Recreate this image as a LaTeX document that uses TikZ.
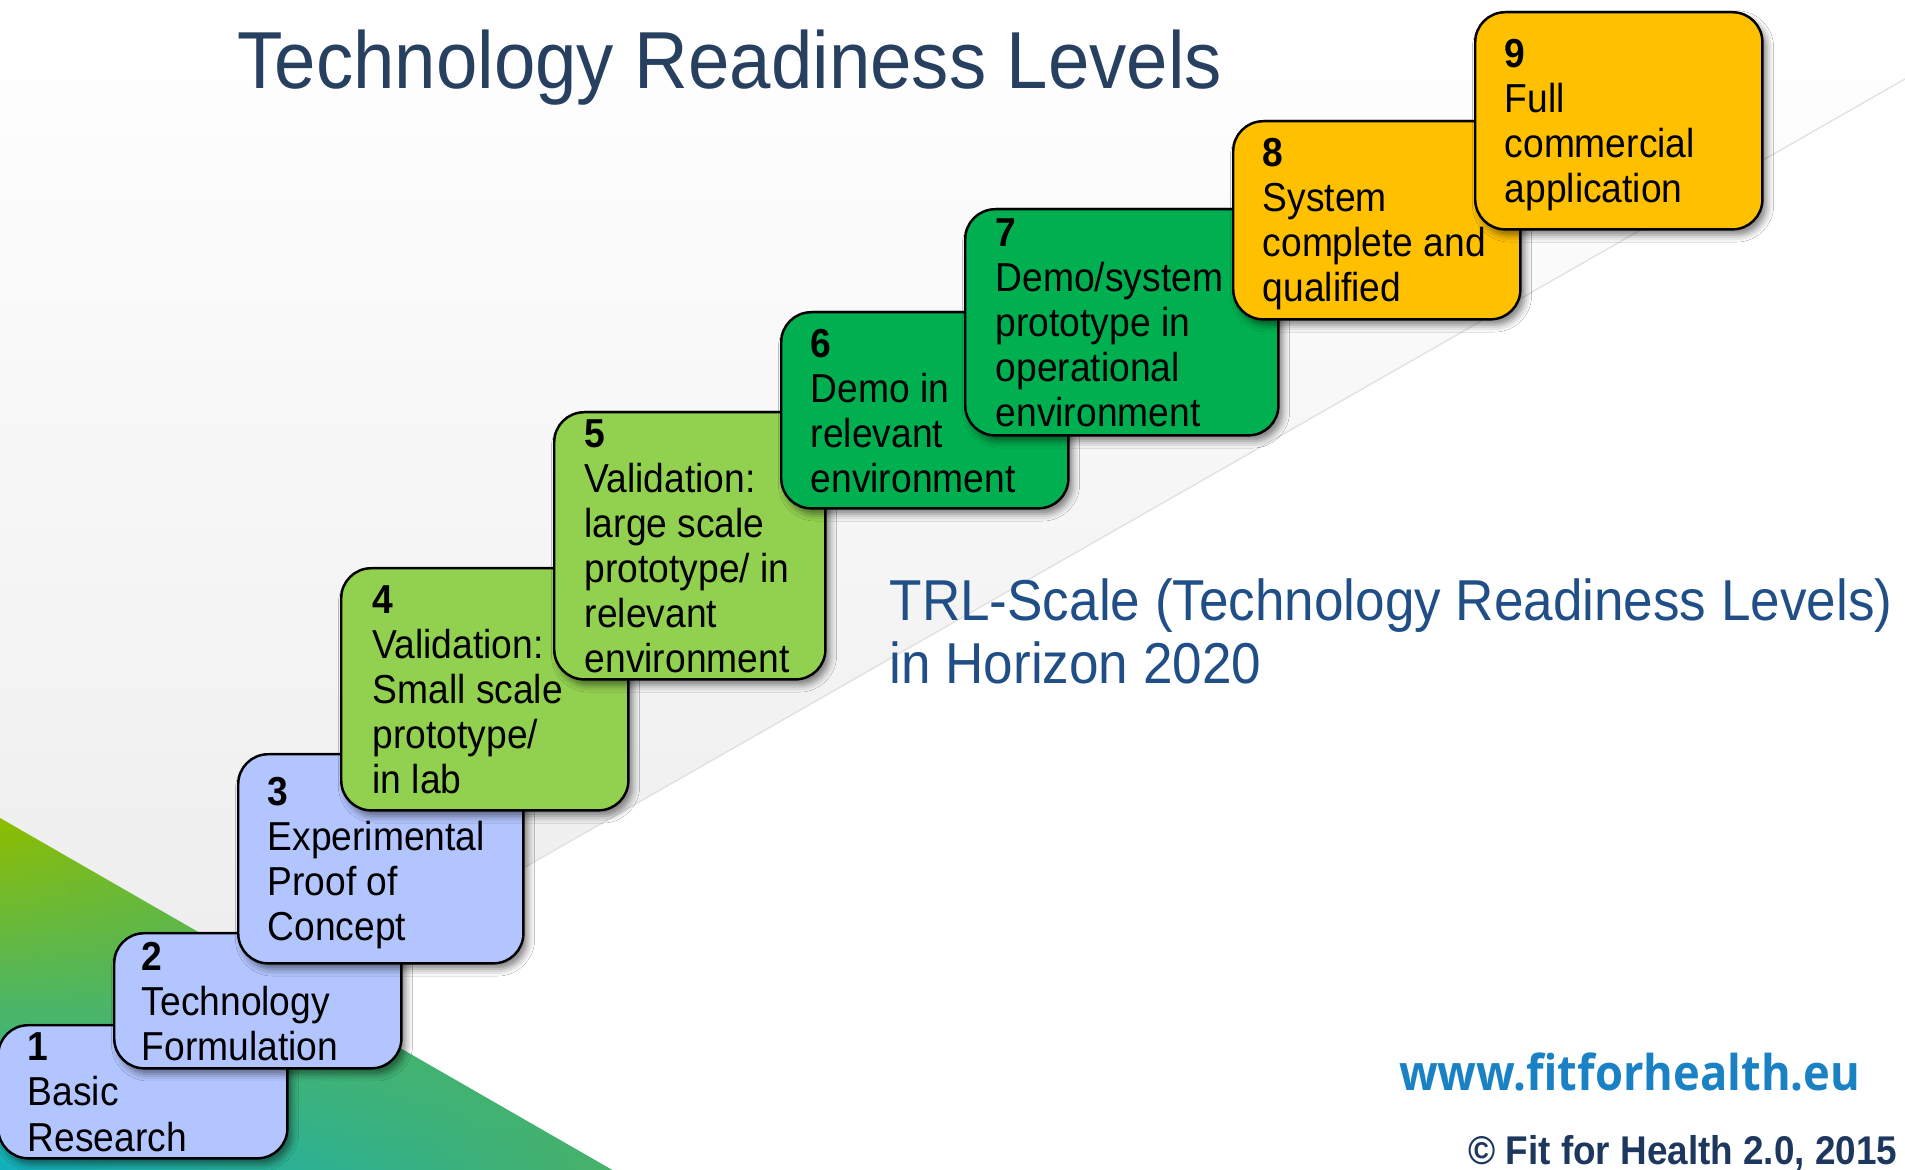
\documentclass[tikz,border=0pt]{standalone}
\usepackage{fontspec}
\setmainfont{Liberation Sans}[FakeStretch=0.92]
\newfontfamily\webfont{Open Sans}[FakeStretch=0.92]
\usetikzlibrary{shadows.blur,fadings}

\definecolor{trlblue}{RGB}{179,197,255}
\definecolor{trllime}{RGB}{146,208,80}
\definecolor{trlgreen}{RGB}{0,176,80}
\definecolor{trlgold}{RGB}{255,192,0}
\definecolor{titleblue}{RGB}{39,64,96}
\definecolor{scaleblue}{RGB}{32,78,135}
\definecolor{webblue}{RGB}{26,130,196}
\definecolor{copynavy}{RGB}{30,55,95}
\definecolor{leafgreen}{RGB}{143,190,0}
\definecolor{midleaf}{RGB}{110,183,45}
\definecolor{seagreen}{RGB}{72,178,104}
\definecolor{tealblue}{RGB}{18,176,190}
\definecolor{haze}{RGB}{234,234,234}

% line box of the step texts: 10.7pt above, 2.1pt below the baseline
\newcommand{\lvstrut}{\rule[-2.1pt]{0pt}{12.8pt}}

\begin{document}
\begin{tikzpicture}[x=0.01cm, y=-0.01cm,
    level/.style={draw=black, line width=0.7pt, rounded corners=8.5pt, anchor=north west, inner sep=0pt,
        blur shadow={shadow xshift=1.2pt, shadow yshift=-1.6pt, shadow blur radius=2pt, shadow opacity=50}},
    leveltext/.style={anchor=west, align=left, inner sep=0pt, font=\fontsize{11.5}{12.8}\selectfont,
        execute at begin node=\lvstrut, execute at end node=\lvstrut}]
    \useasboundingbox (0,0) rectangle (1905,1170);

    % backdrop: grey wedge above the diagonal, green corner
    \fill[white] (0,0) rectangle (1905,1170);
    \shade[top color=white, bottom color=haze] (0,0) -- (1905,0) -- (1905,79) -- (0,1167) -- cycle;
    \draw[gray!25, line width=0.35pt] (0,1167) -- (1905,79);
    \shade[top color=leafgreen, middle color=midleaf, bottom color=tealblue] (0,818) -- (0,1170) -- (612,1170) -- cycle;
    \fill[seagreen, path fading=west] (0,818) -- (0,1170) -- (612,1170) -- cycle;

    \node[anchor=base west, inner sep=0pt, text=titleblue, font=\fontsize{23}{27}\selectfont] (title) at (237,89) {Technology Readiness Levels};

    % the nine steps
    \node[level, fill=trlblue, minimum width=2.89cm, minimum height=1.33cm] (trl1) at (-3,1024) {};
    \node[leveltext] (txt1) at ([shift={(30,4)}]trl1.west) {\textbf{1}\\Basic\\Research};
    \node[level, fill=trlblue, minimum width=2.87cm, minimum height=1.35cm] (trl2) at (113,932) {};
    \node[leveltext] (txt2) at ([shift={(28,4)}]trl2.west) {\textbf{2}\\Technology\\Formulation};
    \node[level, fill=trlblue, minimum width=2.85cm, minimum height=2.09cm] (trl3) at (237,753) {};
    \node[leveltext] (txt3) at ([shift={(30,4)}]trl3.west) {\textbf{3}\\Experimental\\Proof of\\Concept};
    \node[level, fill=trllime, minimum width=2.87cm, minimum height=2.42cm] (trl4) at (340,567) {};
    \node[leveltext] (txt4) at ([shift={(32,4)}]trl4.west) {\textbf{4}\\Validation:\\Small scale\\prototype/\\in lab};
    \node[level, fill=trllime, minimum width=2.71cm, minimum height=2.67cm] (trl5) at (553,411) {};
    \node[leveltext] (txt5) at ([shift={(31,4)}]trl5.west) {\textbf{5}\\Validation:\\large scale\\prototype/ in\\relevant\\environment};
    \node[level, fill=trlgreen, minimum width=2.87cm, minimum height=1.96cm] (trl6) at (780,311) {};
    \node[leveltext] (txt6) at ([shift={(30,4)}]trl6.west) {\textbf{6}\\Demo in\\relevant\\environment};
    \node[level, fill=trlgreen, minimum width=3.13cm, minimum height=2.26cm] (trl7) at (964,208) {};
    \node[leveltext] (txt7) at ([shift={(31,4)}]trl7.west) {\textbf{7}\\Demo/system\\prototype in\\operational\\environment};
    \node[level, fill=trlgold, minimum width=2.87cm, minimum height=1.98cm] (trl8) at (1232,120) {};
    \node[leveltext] (txt8) at ([shift={(30,4)}]trl8.west) {\textbf{8}\\System\\complete and\\qualified};
    \node[level, fill=trlgold, minimum width=2.87cm, minimum height=2.17cm] (trl9) at (1474,11) {};
    \node[leveltext] (txt9) at ([shift={(30,4)}]trl9.west) {\textbf{9}\\Full\\commercial\\application};

    \node[anchor=north west, align=left, inner sep=0pt, text=scaleblue, font=\fontsize{16.4}{17.9}\selectfont] (scale) at (889,578)
        {TRL-Scale (Technology Readiness Levels)\\in Horizon 2020};

    \node[anchor=base east, inner sep=0pt, text=webblue, font=\webfont\bfseries\fontsize{14}{16}\selectfont] (web) at (1861,1090) {www.fitforhealth.eu};
    \node[anchor=base east, inner sep=0pt, text=copynavy, font=\bfseries\fontsize{11.4}{14}\selectfont] (copyright) at (1898,1164) {\textcopyright{} Fit for Health 2.0, 2015};
\end{tikzpicture}
\end{document}
